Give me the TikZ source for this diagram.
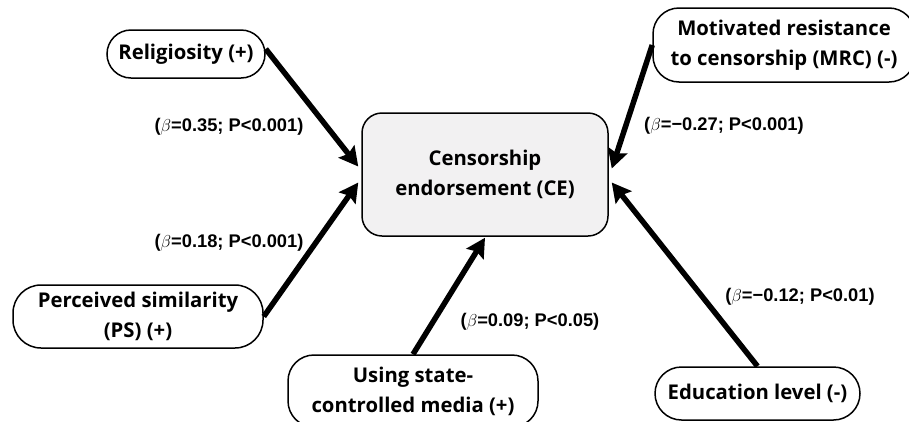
\documentclass[tikz,border=0pt]{standalone}
\usepackage{fontspec}
\setmainfont{Open Sans}
\newfontfamily\lblfont{Liberation Sans}
\usetikzlibrary{arrows.meta,calc}
\definecolor{cefill}{RGB}{242,241,242}
\begin{document}
\begin{tikzpicture}[x=1pt,y=-1pt,
  box/.style={draw=black,line width=1.5pt,fill=white,align=center,
    font=\fontsize{20.3}{30}\selectfont\bfseries,inner sep=0pt},
  lbl/.style={font=\fontsize{18.3}{20}\selectfont\lblfont\bfseries,inner sep=0pt},
  conn/.style={line width=5.5pt,-{Stealth[length=19pt,width=20pt,inset=3pt]}}]
\clip (0,0) rectangle (909,421);
\fill[white] (0,0) rectangle (909,421);
% central
\node[box,fill=cefill,minimum width=246pt,minimum height=123pt,rounded corners=20pt]
  (ce) at (485,174.5) {Censorship\\endorsement (CE)};
% outer boxes
\node[box,minimum width=158pt,minimum height=48pt,rounded corners=24pt]
  (rel) at (186,54) {Religiosity (+)};
\node[box,minimum width=262pt,minimum height=74pt,rounded corners=26pt]
  (mrc) at (784,45) {Motivated resistance\\to censorship (MRC) (-)};
\node[box,minimum width=250pt,minimum height=63pt,rounded corners=28pt]
  (ps) at (138,316.5) {Perceived similarity\\(PS) (+)};
\node[box,minimum width=250pt,minimum height=72pt,rounded corners=26pt]
  (med) at (413,391) {Using state-\\controlled media (+)};
\node[box,minimum width=205pt,minimum height=53pt,rounded corners=26.5pt]
  (edu) at (757.5,393.5) {Education level (-)};
% connectors
\draw[conn] ([yshift=5pt]rel.east) -- ([xshift=-3pt,yshift=8pt]ce.west);
\draw[conn] (ps.east) -- ([xshift=-3pt,yshift=-8pt]ce.west);
\draw[conn] (med.north) -- ([yshift=-1pt]ce.south);
\draw[conn] (mrc.west) -- ([xshift=3pt,yshift=6pt]ce.east);
\draw[conn] (edu.north) -- ([xshift=3pt,yshift=-8pt]ce.east);
% labels
\node[lbl] (l1) at (229,127) {($\beta$=0.35; P<0.001)};
\node[lbl] (l2) at (229,243) {($\beta$=0.18; P<0.001)};
\node[lbl] (l3) at (530,322) {($\beta$=0.09; P<0.05)};
\node[lbl] (l4) at (724,126) {($\beta$=−0.27; P<0.001)};
\node[lbl] (l5) at (800,297) {($\beta$=−0.12; P<0.01)};
\end{tikzpicture}
\end{document}
